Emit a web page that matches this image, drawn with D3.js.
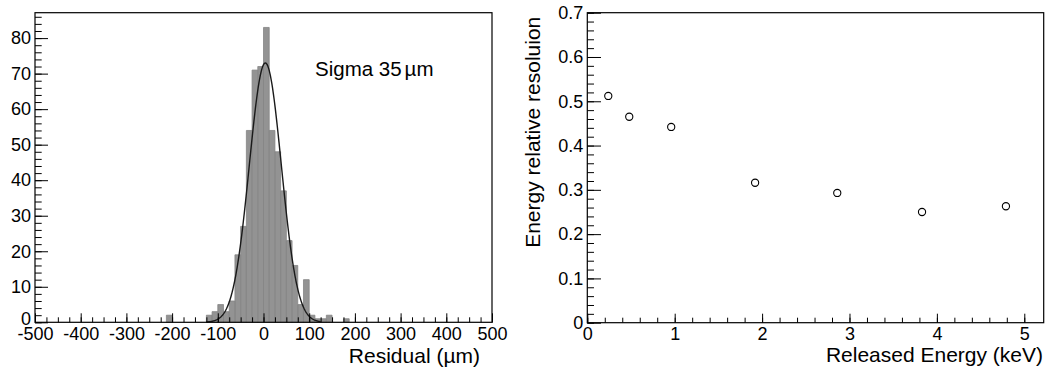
<!DOCTYPE html>
<html>
<head>
<meta charset="utf-8">
<script src="https://cdn.jsdelivr.net/npm/d3@7"></script>
<style>
  body { margin: 0; background: #fff; }
  svg { display: block; font-family: "Liberation Sans", Arial, sans-serif; }
  .tick text { font-size: 18px; fill: #000; }
  .tick line { stroke: #000; }
</style>
</head>
<body>
<div id="chart"></div>
<script>
// Residual histogram (lower bin edge in um, 12.5 um bins) and counts
const binWidth = 12.5;
const binLow = [-212.5, -125, -112.5, -100, -87.5, -75, -62.5, -50, -37.5, -25, -12.5, 0,
  12.5, 25, 37.5, 50, 62.5, 75, 87.5, 100, 112.5, 125, 137.5, 175];
const binCount = [2, 2, 3, 5, 3, 6, 19, 27, 54, 71, 72, 83,
  54, 48, 37, 23, 16, 5, 12, 2, 1, 1, 2, 1];

// Gaussian fit parameters
const fitAmp = 73;
const fitMean = 4;
const fitSigma = 35;
const fitRange = [-125, 125];

const residTicks = [-500, -400, -300, -200, -100, 0, 100, 200, 300, 400, 500];
const countTicks = [0, 10, 20, 30, 40, 50, 60, 70, 80];

// Energy resolution points
const energy = [0.24, 0.48, 0.96, 1.92, 2.86, 3.83, 4.79];
const resolution = [0.512, 0.465, 0.442, 0.316, 0.293, 0.25, 0.263];

const energyTicks = [0, 1, 2, 3, 4, 5];
const resTicks = [0, 0.1, 0.2, 0.3, 0.4, 0.5, 0.6, 0.7];

const svg = d3.select("#chart").append("svg")
  .attr("width", 1045)
  .attr("height", 369);

// ---------- Left: histogram ----------
const x1 = d3.scaleLinear().domain([-500, 500]).range([35, 492]);
const y1 = d3.scaleLinear().domain([0, 87.15]).range([322.3, 12.7]);

const left = svg.append("g");
const bins = binLow.map((lo, i) => ({ lo, n: binCount[i] }));

left.selectAll(".bar")
  .data(bins)
  .enter()
  .append("rect")
  .attr("x", d => x1(d.lo))
  .attr("y", d => y1(d.n))
  .attr("width", d => x1(d.lo + binWidth) - x1(d.lo))
  .attr("height", d => y1(0) - y1(d.n))
  .attr("fill", "#939393");

// step outline of each bar
left.selectAll(".edge")
  .data(bins)
  .enter()
  .append("path")
  .attr("fill", "none")
  .attr("stroke", "#858585")
  .attr("stroke-width", 0.8)
  .attr("d", d => `M${x1(d.lo)},${y1(0)}V${y1(d.n)}H${x1(d.lo + binWidth)}V${y1(0)}`);

// fit curve
const fitX = d3.range(fitRange[0], fitRange[1] + 0.5, 1);
const gauss = v => fitAmp * Math.exp(-0.5 * Math.pow((v - fitMean) / fitSigma, 2));
left.append("path")
  .datum(fitX)
  .attr("fill", "none")
  .attr("stroke", "#1a1a1a")
  .attr("stroke-width", 1.4)
  .attr("d", d3.line().x(d => x1(d)).y(d => y1(gauss(d))));

// axes
left.append("g")
  .attr("transform", `translate(0,${y1(0)})`)
  .call(d3.axisBottom(x1).tickValues(d3.range(-500, 501, 25)).tickSize(-5).tickFormat(""))
  .call(g => g.select(".domain").remove());
left.append("g")
  .attr("transform", `translate(0,${y1(0)})`)
  .call(d3.axisBottom(x1).tickValues(residTicks).tickSizeInner(-9).tickSizeOuter(0)
    .tickPadding(5).tickFormat(d => String(d)))
  .call(g => g.select(".domain").remove());

left.append("g")
  .attr("transform", `translate(${x1(-500)},0)`)
  .call(d3.axisLeft(y1).tickValues(d3.range(0, 87, 2)).tickSize(-6.7).tickFormat(""))
  .call(g => g.select(".domain").remove());
left.append("g")
  .attr("transform", `translate(${x1(-500)},0)`)
  .call(d3.axisLeft(y1).tickValues(countTicks).tickSizeInner(-13).tickSizeOuter(0)
    .tickPadding(4).tickFormat(d => String(d)))
  .call(g => g.select(".domain").remove())
  .call(g => g.selectAll(".tick text").filter(d => d === 0).attr("dy", "0.1em"));

left.append("rect")
  .attr("x", x1(-500)).attr("y", y1(87.15))
  .attr("width", x1(500) - x1(-500)).attr("height", y1(0) - y1(87.15))
  .attr("fill", "none").attr("stroke", "#000").attr("stroke-width", 1.2);

left.append("text")
  .attr("x", 480).attr("y", 362.5)
  .attr("text-anchor", "end")
  .style("font-size", "21px")
  .text("Residual (\u00b5m)");

const sig = left.append("text")
  .attr("x", 315).attr("y", 76)
  .style("font-size", "20.5px");
sig.append("tspan").text("Sigma 35");
sig.append("tspan").attr("dx", 3).text("\u00b5m");

// ---------- Right: energy resolution ----------
const x2 = d3.scaleLinear().domain([0, 5.229]).range([587.3, 1044.3]);
const y2 = d3.scaleLinear().domain([0, 0.7]).range([322.7, 12.7]);

const right = svg.append("g");

right.append("g")
  .attr("transform", `translate(0,${y2(0)})`)
  .call(d3.axisBottom(x2).tickValues(d3.range(0, 26).map(i => i * 0.2)).tickSize(-5).tickFormat(""))
  .call(g => g.select(".domain").remove());
right.append("g")
  .attr("transform", `translate(0,${y2(0)})`)
  .call(d3.axisBottom(x2).tickValues(energyTicks).tickSizeInner(-9).tickSizeOuter(0)
    .tickPadding(5).tickFormat(d => String(d)))
  .call(g => g.select(".domain").remove());

right.append("g")
  .attr("transform", `translate(${x2(0)},0)`)
  .call(d3.axisLeft(y2).tickValues(d3.range(0, 36).map(i => i * 0.02)).tickSize(-6.7).tickFormat(""))
  .call(g => g.select(".domain").remove());
right.append("g")
  .attr("transform", `translate(${x2(0)},0)`)
  .call(d3.axisLeft(y2).tickValues(resTicks).tickSizeInner(-13.7).tickSizeOuter(0)
    .tickPadding(4).tickFormat(d => d === 0 ? "0" : d.toFixed(1)))
  .call(g => g.select(".domain").remove());

right.append("rect")
  .attr("x", x2(0)).attr("y", y2(0.7))
  .attr("width", x2(5.229) - x2(0) - 0.6).attr("height", y2(0) - y2(0.7))
  .attr("fill", "none").attr("stroke", "#000").attr("stroke-width", 1.2);

right.selectAll(".pt")
  .data(energy.map((e, i) => ({ e, r: resolution[i] })))
  .enter()
  .append("circle")
  .attr("cx", d => x2(d.e))
  .attr("cy", d => y2(d.r))
  .attr("r", 3.6)
  .attr("fill", "none")
  .attr("stroke", "#000")
  .attr("stroke-width", 1.1);

right.append("text")
  .attr("x", 1043).attr("y", 362)
  .attr("text-anchor", "end")
  .style("font-size", "21px")
  .text("Released Energy (keV)");

right.append("text")
  .attr("transform", "translate(540,16.7) rotate(-90)")
  .attr("text-anchor", "end")
  .style("font-size", "21px")
  .text("Energy relative resoluion");
</script>
</body>
</html>
